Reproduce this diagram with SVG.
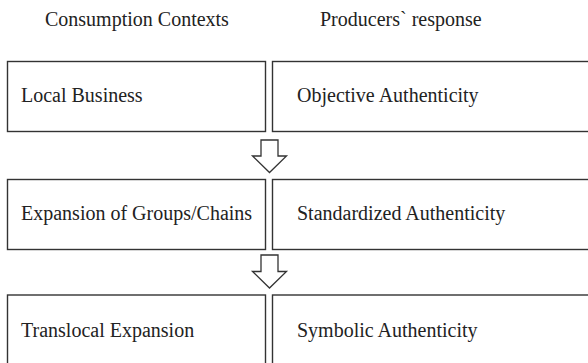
<svg xmlns="http://www.w3.org/2000/svg" width="588" height="363" viewBox="0 0 588 363">
<style>
.box{fill:#fff;stroke:#333;stroke-width:1.4}
.arr{fill:#fff;stroke:#333;stroke-width:1.3;stroke-linejoin:miter}
text{font-family:"Liberation Serif","Times New Roman",serif;font-size:20px;fill:#222}
</style>
<rect width="588" height="363" fill="#fff"/>
<g id="header-consumption"><text x="45" y="26">Consumption Contexts</text></g>
<g id="header-producers"><text x="320" y="26">Producers` response</text></g>
<g id="local-business"><rect class="box" x="7.5" y="61.5" width="258" height="70"/><text x="21" y="101.7">Local Business</text></g>
<g id="objective-authenticity"><rect class="box" x="272.5" y="61.5" width="330" height="70"/><text x="297" y="101.7">Objective Authenticity</text></g>
<g id="expansion-groups"><rect class="box" x="7.5" y="179.5" width="258" height="70"/><text x="21" y="220">Expansion of Groups/Chains</text></g>
<g id="standardized-authenticity"><rect class="box" x="272.5" y="179.5" width="330" height="70"/><text x="297" y="220">Standardized Authenticity</text></g>
<g id="translocal-expansion"><rect class="box" x="7.5" y="295" width="258" height="80"/><text x="21" y="336.7">Translocal Expansion</text></g>
<g id="symbolic-authenticity"><rect class="box" x="272.5" y="295" width="330" height="80"/><text x="297" y="336.7">Symbolic Authenticity</text></g>
<g id="connectors">
<path class="arr" d="M261,140 H278 V156 H286.5 L269.5,172.5 L252.5,156 H261 Z"/>
<path class="arr" d="M261,255 H278 V271.5 H286.5 L269.5,288 L252.5,271.5 H261 Z"/>
</g>
</svg>
